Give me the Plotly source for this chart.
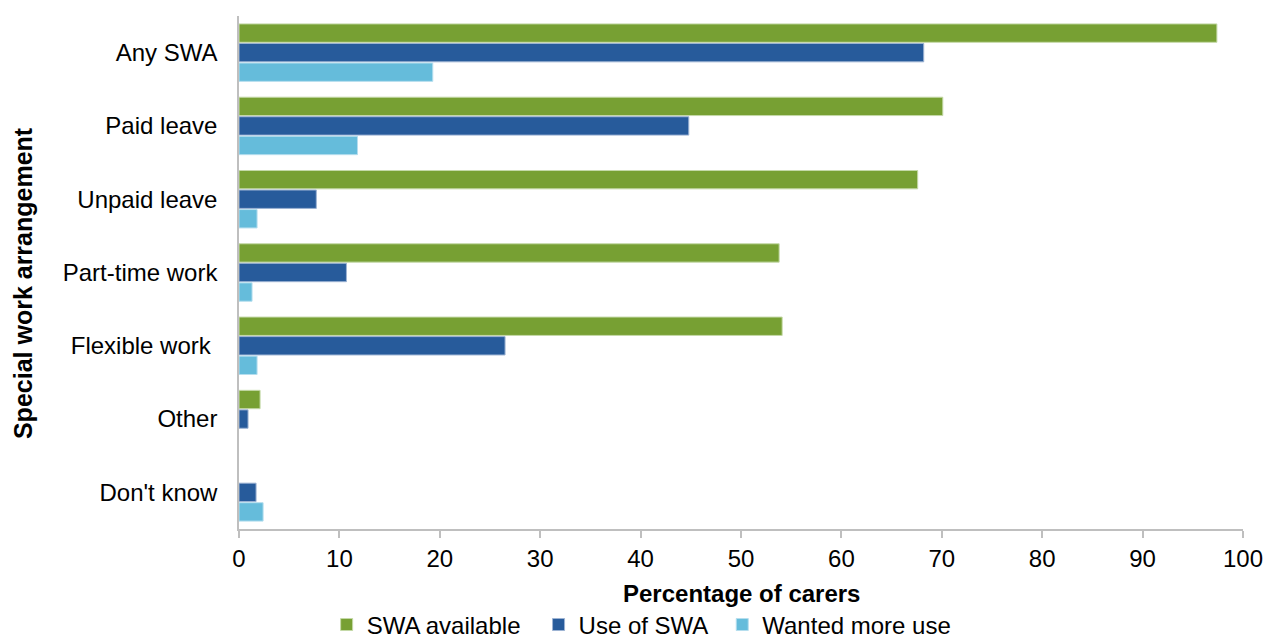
import plotly.graph_objects as go

categories = ["Any SWA", "Paid leave", "Unpaid leave", "Part-time work",
              "Flexible work ", "Other", "Don't know"]
swa_available = [97.4, 70.1, 67.6, 53.8, 54.1, 2.1, 0]
use_of_swa = [68.2, 44.8, 7.7, 10.7, 26.5, 0.9, 1.7]
wanted_more_use = [19.3, 11.8, 1.8, 1.3, 1.8, 0, 2.4]
x_ticks = [0, 10, 20, 30, 40, 50, 60, 70, 80, 90, 100]

series = [
    ("SWA available", swa_available, "#77A033", "#C5D9A8"),
    ("Use of SWA", use_of_swa, "#275B9B", "#9DB3D3"),
    ("Wanted more use", wanted_more_use, "#65BCDB", "#B5DEEE"),
]
legend_ids = ["legend", "legend2", "legend3"]
legend_x = [0.258, 0.4254, 0.5705]

FONT = "Liberation Sans, Arial, sans-serif"
FS = 24

fig = go.Figure()
for (name, vals, col, edge), lid in zip(series, legend_ids):
    fig.add_trace(go.Bar(
        y=categories, x=vals, name=name, orientation="h", legend=lid,
        showlegend=True,
        marker=dict(color=col,
                    line=dict(color=edge, width=[1 if v > 0 else 0 for v in vals])),
    ))

legend_common = dict(orientation="h", xref="container", yref="paper",
                     xanchor="left", y=-0.187, yanchor="middle",
                     font=dict(size=24), itemwidth=30,
                     bgcolor="rgba(0,0,0,0)")

fig.update_layout(
    width=1266, height=640, showlegend=True,
    paper_bgcolor="white", plot_bgcolor="white",
    barmode="group", bargap=0.2, bargroupgap=0.06,
    margin=dict(l=239, r=23, t=16, b=111, autoexpand=False),
    font=dict(family=FONT, size=FS, color="black"),
    legend=dict(legend_common, x=legend_x[0]),
    legend2=dict(legend_common, x=legend_x[1]),
    legend3=dict(legend_common, x=legend_x[2]),
    xaxis=dict(range=[0, 100], tickvals=x_ticks, showgrid=False, automargin=False,
               showline=True, linecolor="#BFBFBF", linewidth=1.5,
               ticks="outside", ticklen=7, tickcolor="#BFBFBF", tickwidth=1.5,
               tickfont=dict(size=FS), zeroline=False),
    yaxis=dict(autorange="reversed", showgrid=False, showline=True, automargin=False,
               linecolor="#BFBFBF", linewidth=1.5, ticks="outside",
               ticklen=15, tickcolor="rgba(0,0,0,0)", tickfont=dict(size=FS)),
    annotations=[
        dict(text="<b>Percentage of carers</b>", xref="paper", yref="paper",
             x=0.5, y=-0.1248, xanchor="center", yanchor="middle",
             showarrow=False, font=dict(size=24)),
        dict(text="<b>Special work arrangement</b>", xref="paper", yref="paper",
             x=-0.2151, y=0.4795, xanchor="center", yanchor="middle",
             textangle=-90, showarrow=False, font=dict(size=25)),
    ],
)

fig.write_html("out.html", config={"displayModeBar": False},
               post_script="document.body.style.margin='0';")
